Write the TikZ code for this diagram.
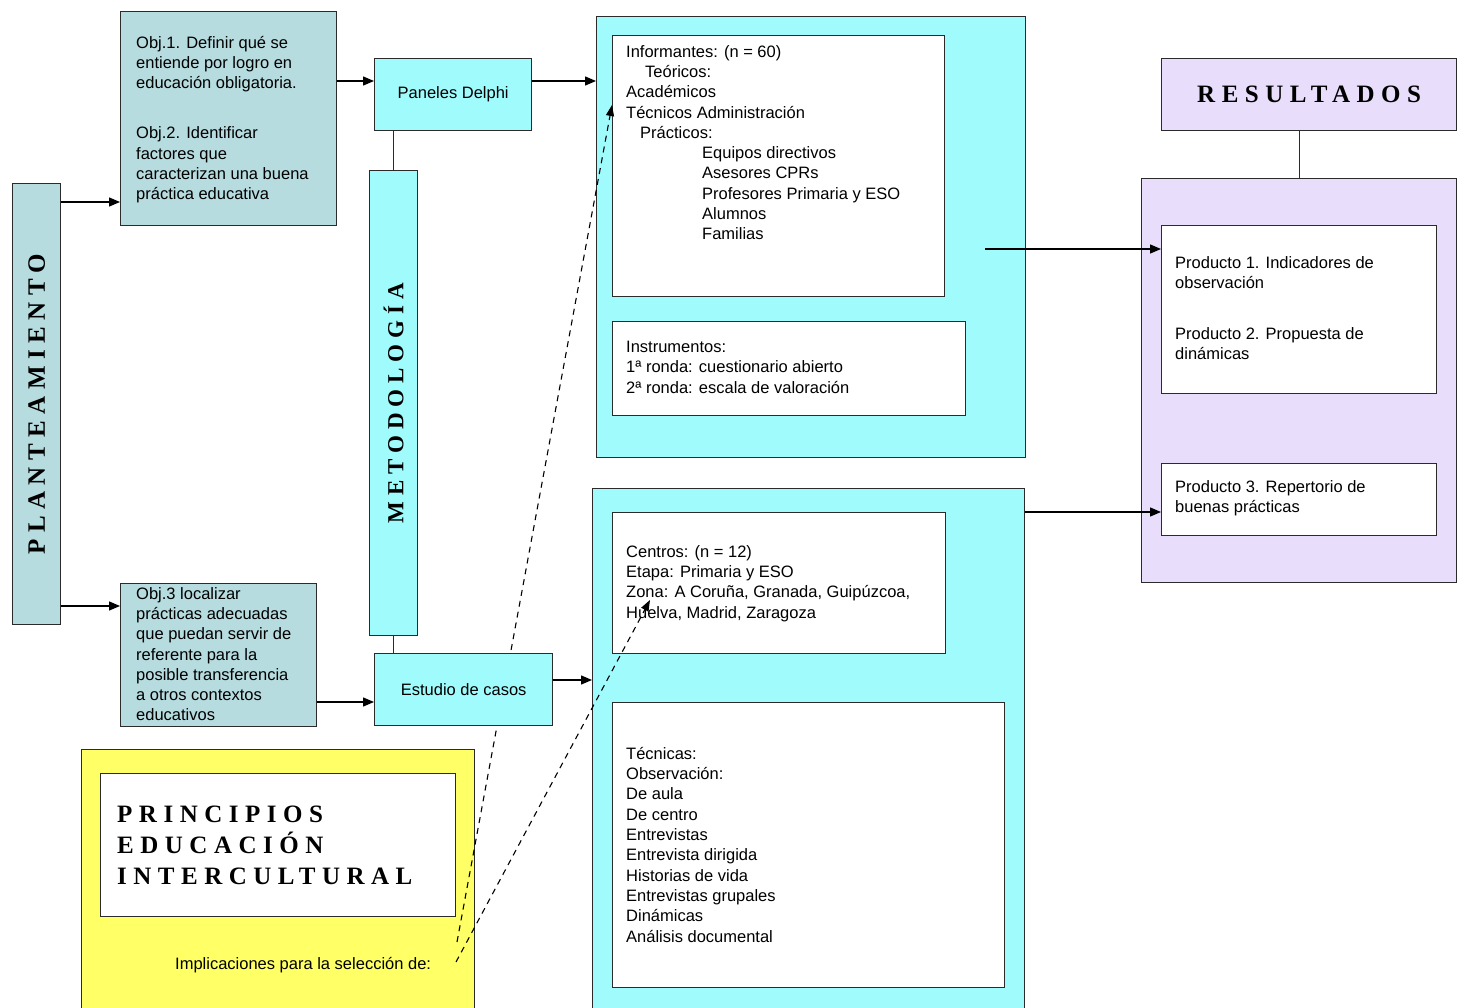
\documentclass[tikz,border=0pt]{standalone}
\usepackage{fontspec}
\setmainfont{Liberation Sans}
\newfontfamily\spacedserif[LetterSpace=26]{Liberation Serif}
\usetikzlibrary{arrows.meta}

\definecolor{objteal}{HTML}{B6DCE0}
\definecolor{metcyan}{HTML}{A0FCFC}
\definecolor{reslila}{HTML}{E8DDFA}
\definecolor{prinyellow}{HTML}{FFFF66}
\definecolor{rule}{HTML}{2B2B2B}

\newcommand\boxfont{\fontsize{16.5}{20.3}\selectfont}
\newcommand\headfont{\spacedserif\bfseries\fontsize{25}{31}\selectfont}

\tikzset{
  panel/.style={draw=rule, line width=1.3pt, anchor=north west, inner sep=0pt},
  lines/.style={anchor=north west, inner sep=0pt, align=left, font=\boxfont},
  heading/.style={inner sep=0pt, font=\headfont},
  link/.style={line width=1.3pt, -{Triangle[length=11pt,width=9pt]}},
  hint/.style={line width=1.1pt, dash pattern=on 6pt off 5pt, -{Triangle[length=11pt,width=8pt]}},
}

\begin{document}
\begin{tikzpicture}[x=1pt, y=-1pt]
  \useasboundingbox (0,0) rectangle (1457,1008);
  \clip (0,0) rectangle (1457,1008);

  % bloques de metodologia (Delphi arriba, casos abajo)
  \node[panel, fill=metcyan, minimum width=429, minimum height=441] (upper) at (596,16) {};
  \node[panel, fill=white, minimum width=332, minimum height=261] (inform) at (612,35) {};
  \node[lines] (informtxt) at (626,45) {Informantes: (n = 60)\\
    \hspace*{19pt}Teóricos:\\
    Académicos\\
    Técnicos Administración\\
    \hspace*{14pt}Prácticos:\\
    \hspace*{76pt}Equipos directivos\\
    \hspace*{76pt}Asesores CPRs\\
    \hspace*{76pt}Profesores Primaria y ESO\\
    \hspace*{76pt}Alumnos\\
    \hspace*{76pt}Familias};
  \node[panel, fill=white, minimum width=353, minimum height=94] (instr) at (612,321) {};
  \node[lines] (instrtxt) at (626,341) {Instrumentos:\\
    1ª ronda: cuestionario abierto\\
    2ª ronda: escala de valoración};

  \node[panel, fill=metcyan, minimum width=432, minimum height=540] (lower) at (592,488) {};
  \node[panel, fill=white, minimum width=333, minimum height=141] (centros) at (612,512) {};
  \node[lines] (centrostxt) at (626,545) {Centros: (n = 12)\\
    Etapa: Primaria y ESO\\
    Zona: A Coruña, Granada, Guipúzcoa,\\
    Huelva, Madrid, Zaragoza};
  \node[panel, fill=white, minimum width=392, minimum height=285] (tecnicas) at (612,702) {};
  \node[lines] (tecnicastxt) at (626,747) {Técnicas:\\
    Observación:\\
    De aula\\
    De centro\\
    Entrevistas\\
    Entrevista dirigida\\
    Historias de vida\\
    Entrevistas grupales\\
    Dinámicas\\
    Análisis documental};

  % resultados
  \node[panel, fill=reslila, minimum width=295, minimum height=72, font=\headfont] (results) at (1161,58) {RESULTADOS};
  \node[panel, fill=reslila, minimum width=315, minimum height=404] (lila) at (1141,178) {};
  \node[panel, fill=white, minimum width=275, minimum height=168] (prod12) at (1161,225) {};
  \node[lines] (prod12txt) at (1175,256) {Producto 1. Indicadores de\\
    observación\\[30.7pt]
    Producto 2. Propuesta de\\
    dinámicas};
  \node[panel, fill=white, minimum width=275, minimum height=72] (prod3) at (1161,463) {};
  \node[lines] (prod3txt) at (1175,480) {Producto 3. Repertorio de\\
    buenas prácticas};

  % principios
  \node[panel, fill=prinyellow, minimum width=393, minimum height=280] (yellow) at (81,749) {};
  \node[panel, fill=white, minimum width=355, minimum height=143] (princ) at (100,773) {};
  \node[heading, anchor=north west, align=left] (princtxt) at (117,806) {PRINCIPIOS\\
    EDUCACIÓN\\
    INTERCULTURAL};
  \node[anchor=base west, inner sep=0pt, font=\boxfont] (impl) at (175,969) {Implicaciones para la selección de:};

  % planteamiento y objetivos
  \node[panel, fill=objteal, minimum width=48, minimum height=441] (plan) at (12,183) {};
  \node[heading, rotate=90] at (plan.center) {PLANTEAMIENTO};
  \node[panel, fill=objteal, minimum width=216, minimum height=214] (obj12) at (120,11) {};
  \node[lines] (obj12txt) at (136,36) {Obj.1. Definir qué se\\
    entiende por logro en\\
    educación obligatoria.\\[29.7pt]
    Obj.2. Identificar\\
    factores que\\
    caracterizan una buena\\
    práctica educativa};
  \node[panel, fill=objteal, minimum width=196, minimum height=143] (obj3) at (120,583) {};
  \node[lines] (obj3txt) at (136,587) {Obj.3 localizar\\
    prácticas adecuadas\\
    que puedan servir de\\
    referente para la\\
    posible transferencia\\
    a otros contextos\\
    educativos};

  % metodologia
  \node[panel, fill=metcyan, minimum width=48, minimum height=465] (metod) at (369,170) {};
  \node[heading, rotate=90, font=\spacedserif\bfseries\fontsize{23}{28}\selectfont] at (metod.center) {METODOLOGÍA};

  % implicaciones (discontinuas)
  \coordinate (hintA) at (457,942);
  \coordinate (hintB) at (456,962);
  \coordinate (huelva) at (650,600);
  \draw[hint] (hintA) -- (inform.west |- 0,105);
  \draw[hint] (hintB) -- (huelva);

  \node[panel, fill=metcyan, minimum width=157, minimum height=72, font=\boxfont] (paneles) at (374,58) {Paneles Delphi};
  \node[panel, fill=metcyan, minimum width=178, minimum height=72, font=\boxfont] (estudio) at (374,653) {Estudio de casos};

  % flechas
  \draw[link] (plan.east |- 0,202) -- (obj12.west |- 0,202);
  \draw[link] (plan.east |- 0,606) -- (obj3.west |- 0,606);
  \draw[link] (obj12.east |- 0,81) -- (paneles.west |- 0,81);
  \draw[link] (paneles.east |- 0,81) -- (upper.west |- 0,81);
  \draw[link] (obj3.east |- 0,702) -- (estudio.west |- 0,702);
  \draw[link] (estudio.east |- 0,680) -- (lower.west |- 0,680);
  \draw[line width=1.3pt, draw=rule] (metod.north |- paneles.south) -- (metod.north);
  \draw[line width=1.3pt, draw=rule] (metod.south) -- (metod.south |- estudio.north);
  \coordinate (fromupper) at (985,249);
  \draw[link] (fromupper) -- (prod12.west |- fromupper);
  \draw[link] (lower.east |- 0,512) -- (prod3.west |- 0,512);
  \draw[line width=1.3pt, draw=rule] (lila.north |- results.south) -- (lila.north);
\end{tikzpicture}
\end{document}
